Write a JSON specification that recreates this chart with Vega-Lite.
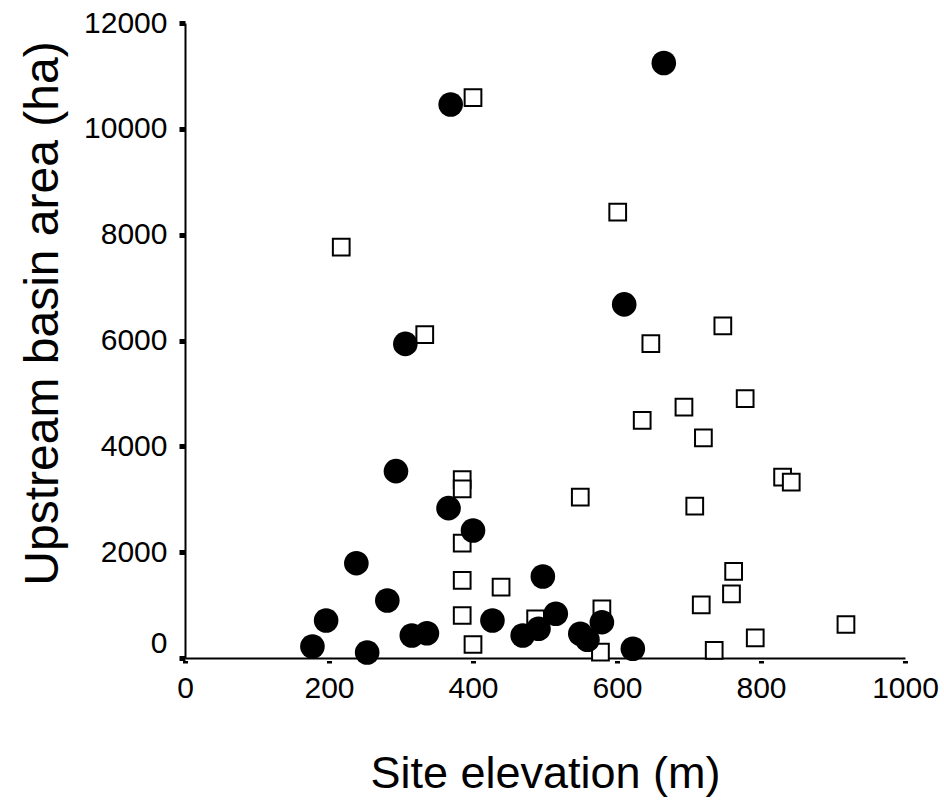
{
  "$schema": "https://vega.github.io/schema/vega-lite/v6.json",
  "width": 720,
  "height": 635,
  "autosize": "none",
  "padding": {"left": 185, "top": 23, "right": 39, "bottom": 148},
  "background": "white",
  "config": {
    "view": {"stroke": null},
    "axis": {
      "grid": false,
      "domainColor": "black",
      "domainWidth": 2,
      "tickColor": "black",
      "labelColor": "black",
      "titleColor": "black",
      "labelFont": "Liberation Sans",
      "titleFont": "Liberation Sans",
      "labelFontSize": 30,
      "titleFontSize": 45,
      "titleFontWeight": "normal"
    }
  },
  "data": {
    "values": [
      {"group": "filled", "elevation": 665, "area": 11244},
      {"group": "filled", "elevation": 369, "area": 10459},
      {"group": "filled", "elevation": 306, "area": 5936},
      {"group": "filled", "elevation": 610, "area": 6682},
      {"group": "filled", "elevation": 293, "area": 3531},
      {"group": "filled", "elevation": 366, "area": 2832},
      {"group": "filled", "elevation": 400, "area": 2410},
      {"group": "filled", "elevation": 238, "area": 1792},
      {"group": "filled", "elevation": 497, "area": 1541},
      {"group": "filled", "elevation": 281, "area": 1087},
      {"group": "filled", "elevation": 196, "area": 709},
      {"group": "filled", "elevation": 177, "area": 217},
      {"group": "filled", "elevation": 253, "area": 104},
      {"group": "filled", "elevation": 315, "area": 425},
      {"group": "filled", "elevation": 336, "area": 469},
      {"group": "filled", "elevation": 427, "area": 709},
      {"group": "filled", "elevation": 469, "area": 425},
      {"group": "filled", "elevation": 491, "area": 552},
      {"group": "filled", "elevation": 515, "area": 836},
      {"group": "filled", "elevation": 549, "area": 457},
      {"group": "filled", "elevation": 559, "area": 344},
      {"group": "filled", "elevation": 579, "area": 677},
      {"group": "filled", "elevation": 622, "area": 174},
      {"group": "open", "elevation": 400, "area": 10590},
      {"group": "open", "elevation": 217, "area": 7766},
      {"group": "open", "elevation": 333, "area": 6110},
      {"group": "open", "elevation": 601, "area": 8427},
      {"group": "open", "elevation": 647, "area": 5940},
      {"group": "open", "elevation": 747, "area": 6276},
      {"group": "open", "elevation": 778, "area": 4900},
      {"group": "open", "elevation": 693, "area": 4741},
      {"group": "open", "elevation": 635, "area": 4490},
      {"group": "open", "elevation": 720, "area": 4159},
      {"group": "open", "elevation": 830, "area": 3418},
      {"group": "open", "elevation": 842, "area": 3323},
      {"group": "open", "elevation": 708, "area": 2870},
      {"group": "open", "elevation": 549, "area": 3040},
      {"group": "open", "elevation": 385, "area": 3369},
      {"group": "open", "elevation": 385, "area": 3198},
      {"group": "open", "elevation": 385, "area": 2170},
      {"group": "open", "elevation": 385, "area": 1465},
      {"group": "open", "elevation": 439, "area": 1338},
      {"group": "open", "elevation": 385, "area": 803},
      {"group": "open", "elevation": 400, "area": 255},
      {"group": "open", "elevation": 487, "area": 741},
      {"group": "open", "elevation": 579, "area": 930},
      {"group": "open", "elevation": 577, "area": 110},
      {"group": "open", "elevation": 762, "area": 1635},
      {"group": "open", "elevation": 759, "area": 1214},
      {"group": "open", "elevation": 717, "area": 1006},
      {"group": "open", "elevation": 792, "area": 382},
      {"group": "open", "elevation": 735, "area": 142},
      {"group": "open", "elevation": 918, "area": 633}
    ]
  },
  "encoding": {
    "x": {
      "field": "elevation",
      "type": "quantitative",
      "scale": {"domain": [0, 1000], "nice": false, "zero": false},
      "axis": {
        "title": "Site elevation (m)",
        "values": [0, 200, 400, 600, 800, 1000],
        "format": "d",
        "tickSize": 5,
        "tickWidth": 5,
        "tickDash": [0, 2.5, 2.5, 20],
        "labelPadding": 10,
        "labelFlush": false,
        "titleBaseline": "alphabetic",
        "titleY": 129
      }
    },
    "y": {
      "field": "area",
      "type": "quantitative",
      "scale": {"domain": [0, 12000], "nice": false, "zero": false},
      "axis": {
        "title": "Upstream basin area (ha)",
        "values": [0, 2000, 4000, 6000, 8000, 10000, 12000],
        "format": "d",
        "tickSize": 6,
        "tickWidth": 5,
        "labelPadding": 12,
        "labelFlush": false,
        "labelOffset": {"condition": {"test": "datum.value === 0", "value": -15}, "value": 0},
        "titleFontSize": 48,
        "titleAngle": -90,
        "titleBaseline": "alphabetic",
        "titleAnchor": "middle",
        "titleX": -128,
        "titleY": 290
      }
    }
  },
  "layer": [
    {
      "transform": [{"filter": "datum.group === 'open'"}],
      "mark": {"type": "point", "shape": "square", "size": 280, "filled": false, "fill": "white", "fillOpacity": 1, "stroke": "black", "strokeWidth": 2, "opacity": 1}
    },
    {
      "transform": [{"filter": "datum.group === 'filled'"}],
      "mark": {"type": "point", "shape": "circle", "size": 605, "filled": true, "color": "black", "opacity": 1}
    }
  ]
}
